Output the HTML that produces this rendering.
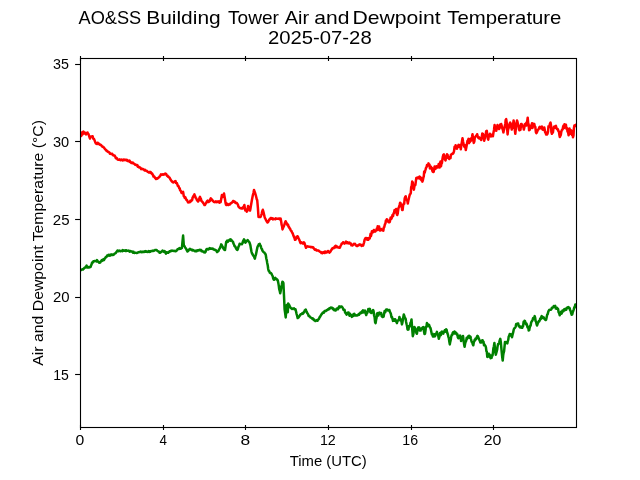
<!DOCTYPE html>
<html><head><meta charset="utf-8">
<style>
html,body{margin:0;padding:0;background:#fff;width:640px;height:480px;overflow:hidden}
svg{display:block;will-change:transform}
text{font-family:"Liberation Sans",sans-serif;fill:#000}
</style></head><body>
<svg width="640" height="480" viewBox="0 0 640 480">
<rect width="640" height="480" fill="#fff"/>
<defs><clipPath id="ax"><rect x="80.5" y="58.5" width="496.0" height="369.0"/></clipPath></defs>
<g clip-path="url(#ax)" fill="none" stroke-width="2.5" stroke-linejoin="round" stroke-linecap="round">
<path stroke="#ff0000" d="M78.0 136.5 L78.5 137.4 L79.0 136.9 L79.6 134.4 L80.1 133.0 L80.6 132.8 L81.2 136.0 L81.8 132.5 L82.5 134.5 L83.0 132.3 L83.4 131.5 L84.2 133.5 L85.0 132.6 L85.5 133.6 L86.0 134.5 L86.5 133.2 L87.0 133.0 L87.5 132.5 L87.9 133.6 L88.4 133.8 L88.9 135.4 L89.5 137.2 L90.0 138.5 L90.5 137.0 L91.0 136.5 L91.5 136.4 L92.1 136.3 L92.6 136.2 L93.4 139.0 L94.1 139.1 L94.7 140.6 L95.3 142.3 L96.0 143.5 L96.5 143.4 L97.1 144.0 L97.6 142.7 L98.1 143.1 L98.6 143.3 L99.0 144.2 L99.5 144.1 L100.0 144.8 L100.5 144.8 L101.0 145.0 L101.5 145.6 L101.9 146.3 L102.4 146.2 L102.9 147.0 L103.3 147.2 L103.8 147.2 L104.3 148.3 L104.7 148.6 L105.2 149.4 L105.7 149.6 L106.1 150.4 L106.6 150.5 L107.1 151.0 L107.5 151.7 L108.0 151.9 L108.5 151.8 L109.0 152.3 L109.4 152.6 L109.9 153.8 L110.4 153.3 L110.9 153.9 L111.4 154.1 L111.8 154.1 L112.3 153.9 L112.8 155.1 L113.3 154.9 L113.8 155.6 L114.2 155.6 L114.7 155.6 L115.2 156.5 L115.6 157.7 L116.0 158.3 L116.5 157.8 L117.0 158.3 L117.4 159.4 L117.9 159.5 L118.3 159.8 L118.8 159.7 L119.3 159.8 L119.7 159.4 L120.2 160.1 L120.7 160.3 L121.1 159.8 L121.6 159.5 L122.1 159.8 L122.5 160.5 L123.0 160.2 L123.5 159.5 L123.9 160.1 L124.4 159.7 L124.9 159.9 L125.3 159.8 L125.8 159.9 L126.3 160.4 L126.8 159.8 L127.2 160.2 L127.7 160.9 L128.1 160.6 L128.6 160.8 L129.0 161.4 L129.5 160.5 L129.9 161.9 L130.4 162.2 L130.8 162.0 L131.3 163.0 L131.8 163.1 L132.2 163.0 L132.7 162.5 L133.2 163.5 L133.6 163.4 L134.1 163.7 L134.6 164.0 L135.0 164.7 L135.5 164.4 L136.0 164.8 L136.4 165.2 L136.9 165.7 L137.4 165.2 L137.8 166.8 L138.3 166.3 L138.8 167.3 L139.2 167.5 L139.7 167.3 L140.2 167.6 L140.7 168.1 L141.2 169.2 L141.7 169.0 L142.1 168.7 L142.6 169.1 L143.1 169.0 L143.6 169.6 L144.1 169.7 L144.5 170.4 L145.0 169.8 L145.5 170.6 L146.0 170.7 L146.4 170.7 L146.9 170.9 L147.4 171.7 L147.8 171.7 L148.3 172.1 L148.8 172.5 L149.2 172.2 L150.0 171.9 L150.5 172.8 L151.0 172.4 L151.5 173.6 L152.0 173.2 L152.5 174.4 L153.0 175.0 L153.5 176.5 L154.0 176.3 L154.5 176.9 L155.0 177.8 L155.5 178.3 L156.0 179.0 L156.5 178.8 L156.9 178.2 L157.4 178.7 L157.8 178.3 L158.3 177.7 L158.8 177.5 L159.2 177.0 L159.7 176.5 L160.1 176.0 L160.6 175.2 L161.0 174.4 L161.5 174.8 L162.1 174.5 L162.6 174.2 L163.1 174.8 L163.6 174.2 L164.2 174.5 L164.7 174.2 L165.2 173.5 L165.7 174.0 L166.2 174.1 L166.6 174.9 L167.1 175.8 L167.5 175.6 L168.0 176.8 L168.5 176.6 L169.0 177.5 L169.5 177.5 L169.9 178.3 L170.4 179.4 L170.9 180.0 L171.4 181.0 L171.9 181.2 L172.4 182.0 L172.8 182.1 L173.3 182.5 L173.8 182.2 L174.2 181.8 L174.7 181.3 L175.1 181.7 L175.6 181.2 L176.0 183.1 L176.5 183.0 L176.9 183.2 L177.4 184.6 L177.8 185.8 L178.3 185.7 L178.8 186.9 L179.2 188.1 L179.7 188.4 L180.1 190.1 L180.6 190.7 L181.0 191.4 L181.5 193.0 L181.9 193.1 L182.5 192.3 L183.1 191.9 L183.8 196.2 L184.2 196.4 L184.7 197.7 L185.1 197.0 L185.6 197.8 L186.1 199.6 L186.6 199.6 L187.1 200.2 L187.6 201.5 L188.1 202.5 L188.5 202.4 L189.0 202.2 L189.4 201.9 L189.9 202.2 L190.3 200.7 L190.8 201.2 L191.2 201.2 L191.7 200.2 L192.2 200.0 L192.6 197.5 L193.1 197.2 L193.5 195.9 L194.0 195.1 L194.4 194.4 L194.9 195.8 L195.4 196.8 L195.9 198.3 L196.4 198.6 L196.9 200.0 L197.5 200.9 L198.1 201.5 L198.6 200.8 L199.1 199.6 L199.5 197.9 L200.0 196.9 L200.5 198.4 L200.9 198.7 L201.4 200.9 L201.9 201.2 L202.4 201.9 L202.9 202.5 L203.4 203.2 L204.0 204.1 L204.5 205.1 L205.0 205.0 L205.4 204.1 L205.9 203.3 L206.3 202.8 L206.8 201.5 L207.2 201.0 L207.8 200.6 L208.2 201.9 L208.8 201.9 L209.2 201.1 L209.8 201.1 L210.2 199.6 L210.8 198.3 L211.2 198.8 L211.7 199.4 L212.2 199.8 L212.6 200.9 L213.1 201.0 L213.5 201.4 L214.0 202.0 L214.4 202.2 L214.9 202.0 L215.3 202.1 L215.8 201.4 L216.2 202.1 L216.7 201.5 L217.2 201.5 L217.6 201.9 L218.1 201.5 L218.6 202.0 L219.1 201.4 L219.6 202.7 L220.1 201.9 L220.6 202.2 L221.2 199.0 L221.9 195.0 L222.8 196.9 L223.4 195.6 L224.0 193.5 L224.5 196.4 L225.0 199.2 L225.5 202.6 L226.0 204.8 L226.5 205.1 L227.0 204.8 L227.5 203.9 L228.0 204.3 L228.5 205.0 L229.0 204.6 L229.5 204.1 L230.0 204.4 L230.5 203.6 L231.0 203.1 L231.6 203.0 L232.1 202.3 L232.6 202.0 L233.1 201.0 L233.6 200.9 L234.1 201.9 L234.5 201.6 L235.0 201.9 L235.5 203.0 L235.9 202.6 L236.4 202.8 L236.9 203.1 L237.4 203.9 L237.9 204.7 L238.4 206.3 L238.9 207.2 L239.4 207.5 L239.9 207.9 L240.4 207.9 L240.9 208.4 L241.5 208.1 L242.0 208.5 L242.5 208.5 L243.0 207.8 L243.4 206.8 L243.9 206.5 L244.4 205.0 L245.0 209.4 L245.4 210.5 L245.9 210.7 L246.3 209.8 L246.8 211.6 L247.2 211.2 L248.1 206.0 L248.6 207.4 L249.1 208.1 L249.5 209.4 L250.0 210.6 L250.5 208.4 L250.9 205.8 L251.4 203.0 L251.9 200.0 L252.4 197.6 L252.9 195.0 L253.5 192.8 L254.0 190.0 L254.5 191.4 L254.9 192.5 L255.4 194.0 L255.9 195.7 L256.3 197.3 L256.8 199.5 L257.2 200.0 L257.9 207.9 L258.5 216.9 L259.0 217.1 L259.6 216.9 L260.1 217.0 L260.6 216.9 L261.1 215.6 L261.7 213.8 L262.2 211.5 L262.8 209.8 L263.2 211.2 L263.6 212.6 L264.1 214.7 L264.6 216.9 L265.0 218.1 L265.5 218.9 L266.0 220.1 L266.5 221.0 L267.0 221.8 L267.5 222.5 L268.0 222.2 L268.5 221.0 L269.1 220.0 L269.6 219.1 L270.1 219.2 L270.6 218.1 L271.1 218.1 L271.6 218.2 L272.0 218.8 L272.5 218.2 L273.0 219.4 L273.4 219.0 L273.9 218.7 L274.4 219.0 L274.9 218.7 L275.4 219.3 L275.8 218.4 L276.3 218.6 L276.8 218.8 L277.3 218.8 L277.7 218.7 L278.2 218.8 L278.7 218.5 L279.2 218.6 L279.6 219.1 L280.1 218.8 L280.6 218.5 L281.1 221.0 L281.6 224.6 L282.0 225.9 L282.5 229.4 L283.0 228.1 L283.5 226.9 L284.1 225.7 L284.6 224.0 L285.1 222.5 L285.6 221.2 L286.1 222.4 L286.6 223.0 L287.0 224.2 L287.5 225.0 L288.0 224.6 L288.5 226.6 L289.0 226.9 L289.5 228.2 L290.0 228.6 L290.5 229.8 L291.0 230.7 L291.5 231.1 L292.0 232.4 L292.5 233.1 L293.0 234.3 L293.5 235.8 L294.0 237.0 L294.5 238.1 L295.0 239.8 L295.5 239.8 L296.0 238.6 L296.5 236.8 L297.0 237.3 L297.5 236.2 L298.0 236.8 L298.5 238.4 L299.1 239.4 L299.6 240.6 L300.1 242.1 L300.6 243.1 L301.1 242.9 L301.6 242.4 L302.0 243.0 L302.5 243.1 L303.0 243.6 L303.4 242.7 L303.9 242.3 L304.4 242.8 L304.9 244.3 L305.5 246.3 L306.0 247.8 L306.5 246.9 L307.0 246.5 L307.5 246.2 L308.0 246.6 L308.5 246.6 L309.1 246.8 L309.6 246.7 L310.1 246.7 L310.6 247.2 L311.1 247.1 L311.6 247.2 L312.1 247.1 L312.6 247.4 L313.1 247.2 L313.6 248.1 L314.1 248.7 L314.5 249.3 L315.0 249.8 L315.5 249.5 L316.0 249.6 L316.6 250.5 L317.1 250.3 L317.6 250.5 L318.1 250.6 L318.6 250.5 L319.1 251.2 L319.6 251.4 L320.0 251.7 L320.5 252.1 L321.0 252.1 L321.5 253.1 L322.0 253.0 L322.4 253.3 L322.9 252.4 L323.3 252.6 L323.8 252.0 L324.2 252.6 L324.7 253.0 L325.1 251.5 L325.6 251.9 L326.1 251.8 L326.6 252.5 L327.1 252.1 L327.6 252.0 L328.0 251.0 L328.5 251.8 L329.0 252.3 L329.5 252.6 L330.0 251.9 L330.5 251.6 L331.0 250.4 L331.6 249.7 L332.1 248.5 L332.6 248.2 L333.1 248.1 L333.6 248.3 L334.2 247.4 L334.7 246.6 L335.2 247.5 L335.7 245.8 L336.2 246.2 L336.8 247.1 L337.3 246.6 L337.8 247.2 L338.3 247.6 L338.9 247.6 L339.4 247.8 L339.9 247.7 L340.3 246.4 L340.8 245.5 L341.2 244.7 L341.7 243.6 L342.2 243.3 L342.6 243.4 L343.1 242.2 L343.6 242.6 L344.1 242.9 L344.6 243.6 L345.1 242.6 L345.5 242.5 L346.0 241.6 L346.5 242.1 L347.0 243.3 L347.5 242.2 L348.0 242.8 L348.5 242.8 L349.0 243.4 L349.5 242.6 L349.9 243.5 L350.4 243.6 L350.9 243.5 L351.4 245.3 L351.9 245.2 L352.4 245.5 L352.9 244.7 L353.4 244.7 L354.0 243.7 L354.5 244.2 L355.0 243.8 L355.5 244.6 L356.0 245.4 L356.5 245.9 L357.0 245.8 L357.5 246.0 L358.0 245.6 L358.5 244.9 L359.0 244.7 L359.5 245.0 L360.0 244.4 L360.5 244.9 L361.0 244.8 L361.6 246.0 L362.1 245.6 L362.6 245.4 L363.1 245.6 L363.6 243.8 L364.1 242.3 L364.6 239.8 L365.1 238.8 L365.6 238.0 L366.0 239.0 L366.5 238.1 L366.9 238.4 L367.4 239.7 L367.8 238.3 L368.3 239.7 L368.8 238.4 L369.2 237.7 L369.7 238.5 L370.1 236.7 L370.6 233.7 L371.0 236.1 L371.5 233.8 L371.9 231.3 L372.4 232.6 L372.9 232.3 L373.4 231.9 L373.8 229.9 L374.3 230.2 L374.8 231.0 L375.3 231.4 L375.8 230.7 L376.3 230.4 L376.8 228.6 L377.2 230.0 L377.7 226.2 L378.2 228.3 L378.6 229.4 L379.1 226.4 L379.6 230.3 L380.0 230.6 L380.5 229.0 L381.0 229.5 L381.4 229.1 L381.9 230.2 L382.4 230.4 L382.8 230.5 L383.3 230.7 L383.8 227.5 L384.3 227.1 L384.9 224.2 L385.4 223.6 L385.9 220.5 L386.4 221.1 L386.8 219.2 L387.3 219.5 L387.8 221.4 L388.3 220.9 L388.7 222.2 L389.2 221.9 L389.7 222.1 L390.1 220.4 L390.6 217.7 L391.1 217.5 L391.5 218.7 L392.0 217.3 L392.5 214.9 L393.0 216.2 L393.5 213.5 L394.0 213.0 L394.5 210.2 L395.0 210.0 L395.6 211.1 L396.1 209.0 L396.6 213.5 L397.2 215.0 L397.7 213.6 L398.2 209.8 L398.6 207.8 L399.1 206.7 L399.6 204.8 L400.1 202.7 L400.6 203.2 L401.1 206.4 L401.6 205.1 L402.1 209.9 L402.6 210.0 L403.1 205.7 L403.6 203.8 L404.2 203.8 L404.7 198.3 L405.2 196.9 L405.7 196.2 L406.2 199.6 L406.8 199.7 L407.3 200.7 L407.8 203.4 L408.3 200.7 L408.8 198.7 L409.3 196.5 L409.8 194.6 L410.3 194.0 L410.8 192.9 L411.2 187.0 L411.7 185.9 L412.2 181.6 L412.8 182.5 L413.3 187.6 L413.9 189.6 L414.4 186.2 L414.9 185.3 L415.4 184.9 L415.8 181.6 L416.3 177.9 L416.8 178.6 L417.4 177.5 L417.9 177.7 L418.4 178.3 L419.0 177.2 L419.5 176.5 L420.0 178.1 L420.5 179.2 L420.9 177.6 L421.4 180.2 L421.9 179.9 L422.4 181.6 L422.8 180.4 L423.3 177.9 L423.8 176.1 L424.2 171.4 L424.7 172.6 L425.1 171.0 L425.6 169.4 L426.1 167.6 L426.6 167.1 L427.0 165.0 L427.5 165.8 L428.0 165.3 L428.5 163.4 L429.0 165.1 L429.5 164.6 L429.9 168.4 L430.4 168.2 L430.9 166.8 L431.4 168.8 L431.8 167.8 L432.3 170.7 L432.8 171.8 L433.3 171.9 L433.7 171.9 L434.2 168.9 L434.6 166.4 L435.1 167.7 L435.5 168.9 L436.0 166.4 L436.5 166.3 L436.9 167.5 L437.4 166.7 L437.8 167.4 L438.3 165.9 L438.7 164.0 L439.2 165.1 L439.6 167.6 L440.1 163.4 L440.5 161.4 L441.0 166.3 L441.4 163.8 L441.9 163.0 L442.4 159.5 L442.8 156.9 L443.3 155.0 L443.9 154.4 L444.4 158.7 L444.9 159.3 L445.5 160.5 L446.0 157.6 L446.5 155.8 L447.0 154.3 L447.6 154.9 L448.1 158.0 L448.6 157.6 L449.2 159.0 L450.0 156.7 L450.5 158.0 L450.9 154.6 L451.4 154.4 L451.9 154.1 L452.4 153.6 L452.8 153.7 L453.3 153.3 L454.0 151.3 L454.6 146.7 L455.1 148.3 L455.6 145.3 L456.1 148.4 L456.5 146.8 L457.0 148.8 L457.5 146.7 L458.0 146.1 L458.5 144.9 L459.0 146.7 L459.5 146.2 L460.0 145.0 L460.8 149.2 L461.4 145.0 L461.9 142.0 L462.5 138.3 L463.1 141.8 L463.8 145.0 L464.3 146.7 L464.8 145.3 L465.3 147.2 L465.8 150.0 L466.4 147.0 L466.9 144.2 L467.5 140.8 L468.0 140.3 L468.5 138.9 L469.0 143.1 L469.5 141.1 L470.0 141.7 L470.5 138.8 L471.0 140.8 L471.5 138.7 L472.0 137.0 L472.5 134.2 L473.1 139.6 L473.8 142.9 L474.3 141.6 L474.8 137.5 L475.4 136.7 L476.0 135.9 L476.5 135.5 L477.1 134.2 L477.7 136.4 L478.2 137.6 L478.8 138.3 L479.2 137.3 L479.8 138.2 L480.2 138.9 L480.8 139.4 L481.2 140.0 L481.8 136.8 L482.3 133.5 L482.9 133.8 L483.5 135.7 L484.2 140.8 L484.7 138.8 L485.2 136.0 L485.7 134.4 L486.2 131.2 L486.8 130.9 L487.3 134.9 L487.8 138.7 L488.3 139.6 L488.8 135.8 L489.4 135.7 L489.9 133.7 L490.4 134.6 L490.9 136.5 L491.4 135.3 L491.9 134.8 L492.4 136.1 L492.9 136.2 L493.5 132.4 L494.0 129.9 L494.6 125.0 L495.2 128.5 L495.7 130.1 L496.2 130.8 L496.9 128.3 L497.5 125.0 L498.0 126.8 L498.6 127.7 L499.1 129.0 L499.6 128.3 L500.2 124.5 L500.7 125.9 L501.2 124.0 L501.8 126.2 L502.3 128.4 L502.9 130.0 L503.4 132.4 L503.9 130.1 L504.3 128.6 L504.8 126.0 L505.3 123.7 L505.7 119.9 L506.2 119.1 L506.7 122.6 L507.1 128.4 L507.6 134.5 L508.1 129.4 L508.6 128.2 L509.2 125.0 L509.7 123.3 L510.2 122.5 L510.8 123.9 L511.3 127.4 L511.8 129.6 L512.2 126.6 L512.7 127.9 L513.1 123.9 L513.6 120.5 L514.2 123.9 L514.7 128.7 L515.3 133.8 L515.9 128.1 L516.4 123.9 L517.0 120.5 L517.5 122.0 L518.0 124.4 L518.5 125.6 L519.0 129.4 L519.5 130.3 L520.0 129.6 L520.5 129.7 L521.1 123.9 L521.6 124.0 L522.1 126.3 L522.7 126.3 L523.2 126.1 L523.8 129.6 L524.3 127.6 L524.8 124.3 L525.4 124.8 L525.9 123.3 L526.4 125.5 L526.8 122.2 L527.2 121.5 L527.7 117.7 L528.2 123.5 L528.6 124.1 L529.1 130.3 L529.6 130.0 L530.1 128.8 L530.5 128.3 L531.0 125.6 L531.5 126.1 L532.0 123.2 L532.4 128.1 L532.9 126.6 L533.4 125.1 L533.8 123.7 L534.3 124.0 L534.8 126.5 L535.3 126.9 L535.9 132.1 L536.4 133.1 L536.9 132.4 L537.4 131.1 L537.9 129.8 L538.4 129.4 L538.9 128.8 L539.4 127.2 L539.9 126.8 L540.4 128.3 L540.9 127.5 L541.4 127.3 L541.9 126.5 L542.4 129.4 L542.9 129.7 L543.4 128.2 L543.9 129.9 L544.3 127.4 L544.8 130.1 L545.2 132.6 L545.6 132.2 L546.1 134.6 L546.5 133.1 L547.0 134.5 L547.5 133.8 L548.0 131.8 L548.5 126.2 L549.0 127.2 L549.5 125.7 L550.0 123.5 L550.5 122.6 L551.0 125.2 L551.4 132.1 L551.9 133.8 L552.4 132.5 L552.9 132.6 L553.4 128.8 L553.9 126.7 L554.4 127.7 L554.9 127.7 L555.4 126.1 L555.9 125.9 L556.5 128.2 L557.0 129.2 L557.5 128.9 L558.0 129.5 L558.4 131.2 L558.9 131.4 L559.4 135.0 L559.8 137.0 L560.3 135.9 L560.8 135.0 L561.2 132.2 L561.7 130.4 L562.2 129.5 L562.6 129.5 L563.1 126.8 L563.6 125.5 L564.0 128.0 L564.5 124.2 L565.0 125.4 L565.4 126.8 L565.9 124.7 L566.5 128.9 L567.0 128.0 L567.5 131.5 L568.1 132.4 L568.6 135.3 L569.0 133.2 L569.5 128.5 L570.0 131.4 L570.4 133.7 L570.9 130.3 L571.4 130.5 L572.0 135.0 L572.5 132.8 L573.0 137.3 L573.5 135.4 L573.9 128.3 L574.4 125.4 L574.9 126.2 L575.3 126.1 L575.8 124.7 L580.0 124.7"/>
<path stroke="#008000" d="M78.0 271.0 L78.5 272.7 L78.9 270.2 L79.4 270.9 L79.8 270.6 L80.3 270.6 L80.7 269.6 L81.2 269.9 L81.6 269.6 L82.1 269.4 L82.5 269.3 L83.0 269.5 L83.5 268.8 L84.0 268.4 L84.5 267.7 L85.1 267.7 L85.6 266.9 L86.1 266.6 L86.6 265.6 L87.0 267.5 L87.5 267.1 L88.0 267.5 L88.5 267.1 L89.0 267.4 L89.5 267.3 L90.0 267.1 L90.5 267.0 L91.0 265.5 L91.5 264.7 L91.9 262.9 L92.4 262.2 L92.9 262.4 L93.4 261.2 L93.9 261.3 L94.4 261.2 L94.9 260.9 L95.4 261.1 L95.9 261.0 L96.5 261.4 L97.0 260.1 L97.5 261.3 L98.0 261.5 L98.6 262.0 L99.2 262.7 L99.7 262.2 L100.2 262.5 L100.7 261.4 L101.1 261.4 L101.6 260.4 L102.1 260.9 L102.5 259.9 L103.0 260.2 L103.5 259.2 L103.9 260.1 L104.4 259.1 L104.8 258.4 L105.3 258.1 L105.7 257.1 L106.2 256.8 L106.6 256.9 L107.1 255.6 L107.5 256.0 L108.0 255.5 L108.5 254.8 L108.9 255.4 L109.4 254.9 L109.8 255.8 L110.3 255.5 L110.7 255.0 L111.2 254.4 L111.6 254.8 L112.1 254.9 L112.5 254.6 L113.0 254.9 L113.5 254.6 L114.0 254.5 L114.5 253.8 L115.0 253.4 L115.5 253.2 L116.0 252.8 L116.5 251.8 L116.9 251.5 L117.4 250.6 L117.9 250.6 L118.4 251.3 L119.0 250.8 L119.5 250.6 L120.0 251.1 L120.5 251.2 L121.0 250.9 L121.5 250.7 L122.0 250.9 L122.5 251.2 L122.9 250.1 L123.4 250.8 L123.9 250.7 L124.4 250.6 L124.9 250.6 L125.4 250.9 L125.8 250.2 L126.3 250.9 L126.8 250.6 L127.2 250.8 L127.7 250.7 L128.2 250.7 L128.6 250.6 L129.1 251.0 L129.6 251.6 L130.0 251.3 L130.5 251.0 L131.0 251.4 L131.5 251.5 L132.0 251.4 L132.5 251.9 L132.9 252.6 L133.4 251.7 L133.9 252.6 L134.4 252.9 L134.9 252.8 L135.4 252.7 L135.9 252.8 L136.3 252.9 L136.8 253.1 L137.3 252.7 L137.8 252.7 L138.3 252.2 L138.8 252.3 L139.2 251.9 L139.7 251.9 L140.2 251.9 L140.7 251.6 L141.2 252.0 L141.7 252.3 L142.1 251.7 L142.6 251.8 L143.1 251.9 L143.6 251.7 L144.1 252.0 L144.5 251.7 L145.0 251.2 L145.5 251.6 L145.9 251.2 L146.4 251.8 L146.8 251.8 L147.3 251.9 L147.8 251.6 L148.2 251.6 L148.7 251.0 L149.1 252.0 L149.6 251.2 L150.0 251.5 L150.5 251.7 L151.0 250.9 L151.4 250.9 L151.9 251.1 L152.4 250.8 L152.9 250.6 L153.4 251.0 L153.8 250.8 L154.3 250.6 L154.8 250.2 L155.3 249.9 L155.8 249.9 L156.2 250.0 L156.7 250.2 L157.2 250.7 L157.7 251.3 L158.1 251.3 L158.6 251.4 L159.1 251.8 L159.5 252.8 L160.0 252.8 L160.5 252.4 L161.0 252.0 L161.5 251.6 L162.0 251.2 L162.5 250.6 L163.0 251.0 L163.5 251.7 L164.1 252.0 L164.6 251.1 L165.1 252.3 L165.6 252.8 L166.0 253.7 L166.5 252.2 L166.9 252.6 L167.4 252.8 L167.8 252.4 L168.3 252.8 L168.8 252.2 L169.2 251.6 L169.7 251.3 L170.1 251.5 L170.6 251.1 L171.0 250.7 L171.5 251.0 L171.9 250.6 L172.4 250.8 L172.8 250.8 L173.3 250.7 L173.8 251.0 L174.2 251.0 L174.7 250.8 L175.1 251.3 L175.6 251.2 L176.1 251.0 L176.6 250.5 L177.0 250.3 L177.5 249.3 L178.0 249.2 L178.4 248.7 L178.9 249.0 L179.4 248.1 L179.9 248.3 L180.4 248.8 L180.9 248.6 L181.4 248.0 L181.9 248.1 L182.5 241.5 L183.1 235.6 L183.8 245.0 L184.2 245.9 L184.7 246.5 L185.1 247.3 L185.6 248.1 L186.1 248.6 L186.6 250.0 L187.0 250.7 L187.5 251.5 L188.0 251.1 L188.4 250.6 L188.9 249.6 L189.4 249.4 L189.9 248.7 L190.3 249.5 L190.8 249.4 L191.2 249.5 L191.7 250.1 L192.2 249.8 L192.6 250.5 L193.1 250.0 L193.6 250.3 L194.1 250.7 L194.6 250.9 L195.1 251.3 L195.6 251.2 L196.1 250.6 L196.6 251.3 L197.0 250.7 L197.5 250.2 L198.0 250.5 L198.4 250.2 L198.9 250.4 L199.4 249.8 L199.9 250.2 L200.4 250.3 L200.9 249.8 L201.5 251.2 L202.0 251.3 L202.5 251.0 L203.0 251.6 L203.5 251.8 L204.0 252.3 L204.5 251.9 L205.0 252.5 L205.5 251.9 L205.9 250.8 L206.4 249.5 L206.9 249.0 L207.4 249.1 L207.9 249.1 L208.3 249.5 L208.8 249.2 L209.3 248.3 L209.8 248.1 L210.3 248.8 L210.8 248.7 L211.2 248.8 L211.7 248.5 L212.2 248.4 L212.6 249.0 L213.1 248.7 L213.5 249.0 L214.0 249.6 L214.4 249.4 L214.9 249.9 L215.4 250.0 L215.9 250.2 L216.5 251.0 L217.0 252.1 L217.5 251.9 L218.0 251.0 L218.5 251.0 L219.0 249.3 L219.5 248.8 L220.0 248.1 L220.6 246.5 L221.2 244.4 L221.7 245.0 L222.2 246.3 L222.6 246.7 L223.1 248.1 L223.6 248.8 L224.1 249.5 L224.5 249.3 L225.0 250.0 L225.6 246.0 L226.2 241.9 L226.7 241.4 L227.2 240.5 L227.7 241.9 L228.2 240.9 L228.7 240.6 L229.1 240.2 L229.6 239.8 L230.1 239.4 L230.6 240.7 L231.1 239.6 L231.6 240.5 L232.0 240.9 L232.5 241.4 L233.0 241.8 L233.5 243.6 L234.0 244.5 L234.5 246.2 L235.0 246.3 L235.5 247.0 L235.9 248.2 L236.4 249.0 L236.9 249.6 L237.4 249.9 L237.9 248.9 L238.5 246.6 L239.1 245.6 L239.6 243.8 L240.2 244.1 L240.7 244.0 L241.2 243.9 L241.8 244.3 L242.4 243.4 L242.9 241.6 L243.4 240.5 L244.0 239.4 L244.5 240.1 L244.9 242.2 L245.4 242.6 L245.9 241.9 L246.5 241.1 L247.1 240.6 L247.6 240.0 L248.2 240.7 L248.7 241.7 L249.2 241.9 L249.8 243.3 L250.4 245.4 L250.9 248.6 L251.4 251.3 L252.0 253.5 L252.5 254.0 L253.0 255.2 L253.4 255.8 L253.9 256.1 L254.4 257.6 L254.9 258.6 L255.4 256.1 L255.9 254.8 L256.4 252.3 L256.8 250.3 L257.3 247.7 L257.8 246.2 L258.3 245.6 L258.8 244.3 L259.2 244.4 L259.7 243.8 L260.2 245.3 L260.6 245.5 L261.1 247.3 L261.5 248.6 L262.0 249.1 L262.4 250.6 L262.9 251.3 L263.4 251.9 L263.9 252.4 L264.4 252.4 L264.8 253.4 L265.3 253.8 L265.8 255.0 L266.3 258.5 L266.8 260.4 L267.2 262.9 L267.7 265.2 L268.2 269.0 L268.7 271.0 L269.2 271.1 L269.7 272.5 L270.1 272.9 L270.6 273.0 L271.1 273.2 L271.6 273.9 L272.2 275.3 L272.7 276.3 L273.2 278.5 L273.8 279.8 L274.3 279.8 L274.8 278.8 L275.3 277.9 L275.8 278.8 L276.3 278.7 L276.8 279.6 L277.3 279.6 L277.8 280.5 L278.3 282.9 L278.8 285.9 L279.2 289.1 L279.7 290.8 L280.2 293.3 L280.8 290.4 L281.3 286.8 L281.8 284.7 L282.4 281.7 L282.9 282.1 L283.4 283.1 L284.0 295.7 L284.6 309.4 L285.1 312.8 L285.7 317.4 L286.2 311.3 L286.8 305.0 L287.3 308.5 L287.8 312.3 L288.2 303.5 L288.7 304.5 L289.2 305.0 L289.6 305.8 L290.1 307.2 L290.6 307.7 L291.1 308.2 L291.6 308.6 L292.1 309.0 L292.6 308.7 L293.1 308.4 L293.5 308.6 L294.0 308.4 L294.5 309.3 L295.0 309.1 L295.5 309.4 L296.1 311.8 L296.6 314.1 L297.1 315.6 L297.7 318.1 L298.2 317.6 L298.7 317.4 L299.1 316.3 L299.6 316.1 L300.1 315.0 L300.6 314.5 L301.2 313.9 L301.7 314.0 L302.2 313.2 L302.8 313.7 L303.3 313.3 L303.8 312.1 L304.2 312.2 L304.7 310.5 L305.2 310.3 L305.7 309.6 L306.2 310.8 L306.7 311.6 L307.1 312.9 L307.6 313.5 L308.1 314.4 L308.6 315.9 L309.1 315.7 L309.5 316.4 L310.0 316.7 L310.5 317.4 L310.9 317.6 L311.4 317.8 L311.8 318.2 L312.3 318.8 L312.8 318.4 L313.2 319.3 L313.7 319.9 L314.1 319.5 L314.6 320.3 L315.0 320.9 L315.5 321.0 L316.0 320.5 L316.5 320.5 L317.1 320.0 L317.6 320.8 L318.1 319.6 L318.6 319.4 L319.1 318.6 L319.6 317.1 L320.1 316.9 L320.5 315.9 L321.0 315.3 L321.5 314.2 L322.0 313.8 L322.5 313.0 L323.0 312.4 L323.5 312.5 L323.9 312.7 L324.4 311.2 L324.9 310.9 L325.4 311.2 L325.9 311.0 L326.4 310.3 L326.9 310.3 L327.3 309.9 L327.8 309.6 L328.3 309.1 L328.8 309.4 L329.3 308.3 L329.8 308.6 L330.2 308.2 L330.7 307.6 L331.2 307.6 L331.7 308.1 L332.2 307.7 L332.7 308.0 L333.2 309.3 L333.6 308.8 L334.1 310.2 L334.6 310.3 L335.1 310.0 L335.6 310.5 L336.1 309.8 L336.5 308.9 L337.0 309.4 L337.5 308.4 L337.9 309.3 L338.4 307.6 L338.8 307.9 L339.3 306.4 L339.8 307.0 L340.2 307.3 L340.7 306.4 L341.1 306.5 L341.6 306.6 L342.1 307.0 L342.5 307.5 L343.0 308.6 L343.5 309.9 L344.1 310.2 L344.6 309.9 L345.1 312.4 L345.6 313.1 L346.1 313.7 L346.6 314.6 L347.1 312.9 L347.6 312.8 L348.1 312.5 L348.6 312.6 L349.1 314.3 L349.5 315.7 L350.0 313.8 L350.5 315.3 L350.9 314.8 L351.4 315.7 L351.9 316.9 L352.4 316.1 L352.9 316.1 L353.4 314.2 L353.9 314.1 L354.4 313.8 L354.9 315.4 L355.4 315.0 L355.9 315.5 L356.4 315.6 L356.9 315.6 L357.4 315.0 L357.8 315.2 L358.3 314.9 L358.8 314.0 L359.2 314.6 L359.7 313.3 L360.1 313.7 L360.6 312.5 L361.1 312.3 L361.6 312.8 L362.1 311.2 L362.6 311.1 L363.0 310.3 L363.5 312.4 L364.0 311.5 L364.5 311.0 L365.0 310.6 L365.6 313.4 L366.2 315.0 L366.8 313.2 L367.3 313.0 L367.8 311.4 L368.3 309.1 L368.9 309.5 L369.4 308.8 L369.9 309.0 L370.3 312.3 L370.8 311.3 L371.2 313.1 L371.7 311.7 L372.2 312.5 L372.6 310.8 L373.1 310.0 L373.6 311.3 L374.1 315.5 L374.6 317.1 L375.1 322.1 L375.6 323.1 L376.1 319.7 L376.6 317.7 L377.0 313.5 L377.5 313.8 L378.0 313.0 L378.4 315.4 L378.9 313.4 L379.4 312.5 L379.8 313.6 L380.3 313.0 L380.8 313.1 L381.2 313.1 L381.7 316.3 L382.2 316.6 L382.6 317.0 L383.1 316.2 L383.6 316.7 L384.2 313.1 L384.7 310.9 L385.2 312.4 L385.7 310.9 L386.2 309.4 L386.8 309.5 L387.3 309.5 L387.8 310.4 L388.3 310.3 L388.9 310.1 L389.4 310.0 L389.9 311.9 L390.4 312.7 L390.9 314.0 L391.5 317.2 L392.0 317.0 L392.5 318.8 L393.0 320.9 L393.5 319.8 L394.1 319.4 L394.6 320.7 L395.1 319.3 L395.6 320.0 L396.2 321.4 L396.9 323.1 L397.4 321.5 L397.9 320.6 L398.4 320.0 L398.9 320.2 L399.4 316.9 L399.9 318.9 L400.4 318.8 L400.9 320.6 L401.4 321.1 L401.9 324.4 L402.4 322.6 L402.8 320.3 L403.3 317.2 L403.8 314.4 L404.2 315.8 L404.7 317.1 L405.1 318.1 L405.6 318.8 L406.1 322.0 L406.6 324.3 L407.0 325.8 L407.5 329.4 L408.0 329.7 L408.5 329.5 L409.0 325.9 L409.5 326.6 L410.0 326.2 L410.5 322.8 L411.0 322.2 L411.5 319.4 L412.1 327.5 L412.8 336.2 L413.3 334.5 L413.8 331.1 L414.4 326.9 L414.9 327.8 L415.4 329.2 L415.9 330.4 L416.4 333.0 L416.9 333.8 L417.5 329.7 L418.1 327.5 L418.6 328.6 L419.1 327.3 L419.6 330.4 L420.1 330.5 L420.6 330.6 L421.1 328.7 L421.6 328.3 L422.0 328.4 L422.5 327.5 L423.0 329.0 L423.5 327.1 L424.0 331.5 L424.5 334.0 L425.0 333.8 L425.5 330.6 L425.9 327.1 L426.4 327.0 L426.9 323.1 L427.4 324.1 L427.9 324.8 L428.4 325.9 L429.0 324.8 L429.5 326.1 L430.0 327.5 L430.5 328.1 L430.9 329.8 L431.4 332.3 L431.9 334.4 L432.4 333.6 L432.9 336.6 L433.4 335.8 L434.0 336.5 L434.5 334.2 L435.0 336.2 L435.5 334.9 L435.9 333.9 L436.4 333.1 L436.9 331.9 L437.4 334.1 L437.8 334.5 L438.3 336.1 L438.8 338.8 L439.4 336.9 L440.0 333.1 L440.5 335.2 L440.9 334.9 L441.4 332.3 L441.9 331.6 L442.3 332.4 L442.8 332.5 L443.3 333.7 L443.8 331.7 L444.2 331.1 L444.7 330.3 L445.2 331.8 L445.7 329.7 L446.1 329.2 L446.6 329.8 L447.2 332.7 L447.8 334.3 L448.4 336.9 L448.9 338.3 L449.3 341.6 L449.8 344.4 L450.3 341.6 L450.8 339.5 L451.2 336.6 L451.7 335.0 L452.2 334.9 L452.6 333.2 L453.1 332.3 L453.6 332.2 L454.1 333.4 L454.5 331.5 L455.0 333.4 L455.5 333.4 L455.9 332.6 L456.4 333.1 L456.9 334.6 L457.4 334.2 L457.8 337.3 L458.3 338.3 L458.8 336.5 L459.2 336.0 L459.7 336.5 L460.2 335.5 L460.6 337.5 L461.1 341.1 L461.6 339.9 L462.1 338.9 L462.5 338.3 L463.0 335.9 L463.5 339.9 L464.1 344.2 L464.6 346.7 L465.1 343.7 L465.6 341.9 L466.2 340.7 L466.7 337.8 L467.2 338.8 L467.6 337.9 L468.1 336.6 L468.6 335.9 L469.1 335.8 L469.5 337.8 L470.0 336.4 L470.5 336.7 L470.9 338.8 L471.4 341.1 L471.9 342.2 L472.3 342.3 L472.8 344.4 L473.3 345.3 L473.8 342.2 L474.2 341.2 L474.7 339.7 L475.2 340.1 L475.6 338.4 L476.1 339.0 L476.6 337.7 L477.1 336.4 L477.5 335.9 L478.0 336.4 L478.5 338.0 L478.9 338.9 L479.4 339.9 L479.8 340.8 L480.3 342.5 L480.8 341.8 L481.2 342.4 L481.7 342.3 L482.1 340.4 L482.6 340.2 L483.1 342.2 L483.5 341.7 L484.0 345.3 L484.5 344.6 L484.9 345.5 L485.4 345.8 L485.9 347.2 L486.4 351.2 L486.8 351.6 L487.3 357.0 L487.8 356.4 L488.3 355.5 L488.8 353.8 L489.2 356.7 L489.7 354.8 L490.2 356.4 L490.6 358.2 L491.1 357.5 L491.6 357.8 L492.0 355.3 L492.5 355.6 L493.0 352.1 L493.4 348.2 L493.9 346.2 L494.4 343.0 L494.9 347.6 L495.3 352.1 L495.8 354.7 L496.2 353.1 L496.7 351.3 L497.2 349.4 L497.6 346.2 L498.1 344.0 L498.7 343.9 L499.2 342.6 L499.8 340.1 L500.3 338.8 L500.8 342.2 L501.3 347.6 L501.7 352.0 L502.2 356.9 L502.7 360.6 L503.2 355.3 L503.6 352.8 L504.1 351.2 L504.5 346.8 L505.0 341.9 L505.5 342.1 L505.9 342.2 L506.4 342.6 L506.8 342.3 L507.3 343.4 L507.8 341.1 L508.3 339.6 L508.7 336.7 L509.2 335.8 L509.7 334.0 L510.2 334.9 L510.6 334.2 L511.1 335.5 L511.5 335.3 L512.0 337.2 L512.5 334.9 L513.1 332.7 L513.6 330.2 L514.1 328.7 L514.6 328.2 L515.2 327.5 L515.7 326.6 L516.2 323.9 L516.7 323.9 L517.2 324.0 L517.7 323.5 L518.2 323.6 L518.8 326.3 L519.3 326.5 L519.8 326.2 L520.3 327.6 L520.8 327.5 L521.2 326.8 L521.7 327.7 L522.2 327.8 L522.7 326.0 L523.1 326.1 L523.6 321.8 L524.0 322.5 L524.5 320.8 L525.0 321.1 L525.5 322.9 L525.9 324.1 L526.4 323.4 L526.9 324.7 L527.4 326.9 L527.8 327.8 L528.3 326.8 L528.7 330.5 L529.2 330.2 L529.7 327.6 L530.2 325.7 L530.6 325.8 L531.1 322.8 L531.6 321.6 L532.1 320.9 L532.6 319.7 L533.2 318.0 L533.7 319.2 L534.2 318.2 L534.7 316.1 L535.2 318.0 L535.6 321.1 L536.1 321.7 L536.5 323.8 L537.0 325.5 L537.5 324.3 L537.9 322.6 L538.4 322.4 L538.9 321.0 L539.4 321.1 L539.8 320.0 L540.3 318.5 L540.8 319.0 L541.2 317.3 L541.7 316.1 L542.2 318.0 L542.7 316.8 L543.2 317.3 L543.7 317.5 L544.1 318.7 L544.6 318.9 L545.1 319.5 L545.6 320.0 L546.1 319.8 L546.6 317.5 L547.2 314.8 L547.7 314.1 L548.2 312.0 L548.8 310.6 L549.2 310.0 L549.7 309.8 L550.1 309.7 L550.6 309.8 L551.0 309.8 L551.5 308.7 L551.9 307.7 L552.4 308.0 L552.8 307.5 L553.3 307.1 L553.7 306.1 L554.2 306.7 L554.7 306.9 L555.2 305.9 L555.7 308.6 L556.2 308.5 L556.6 308.8 L557.1 307.8 L557.6 309.0 L558.1 309.1 L558.6 312.2 L559.2 313.1 L559.7 315.3 L560.2 313.8 L560.6 314.0 L561.1 311.7 L561.6 313.6 L562.0 312.5 L562.5 310.5 L563.0 311.5 L563.5 311.2 L563.9 310.2 L564.4 309.1 L564.9 309.5 L565.3 310.0 L565.8 308.8 L566.3 309.6 L566.8 308.1 L567.2 307.6 L567.7 307.7 L568.2 307.0 L568.6 308.0 L569.1 307.5 L569.6 308.1 L570.1 310.1 L570.7 311.2 L571.2 313.4 L571.7 314.7 L572.2 314.5 L572.7 312.4 L573.2 311.0 L573.8 309.3 L574.3 307.3 L574.8 307.5 L575.3 304.4 L580.0 304.4"/>
</g>
<rect x="80.5" y="58.5" width="496.0" height="369.0" fill="none" stroke="#000" stroke-width="1.11"/>
<g stroke="#000" stroke-width="1.11"><line x1="75.1" y1="64.5" x2="80.5" y2="64.5"/><line x1="75.1" y1="141.5" x2="80.5" y2="141.5"/><line x1="75.1" y1="219.5" x2="80.5" y2="219.5"/><line x1="75.1" y1="297.5" x2="80.5" y2="297.5"/><line x1="75.1" y1="374.5" x2="80.5" y2="374.5"/><line x1="80.5" y1="56" x2="80.5" y2="61"/><line x1="80.5" y1="425" x2="80.5" y2="430"/><line x1="163.5" y1="56" x2="163.5" y2="61"/><line x1="163.5" y1="425" x2="163.5" y2="430"/><line x1="245.5" y1="56" x2="245.5" y2="61"/><line x1="245.5" y1="425" x2="245.5" y2="430"/><line x1="328.5" y1="56" x2="328.5" y2="61"/><line x1="328.5" y1="425" x2="328.5" y2="430"/><line x1="411.5" y1="56" x2="411.5" y2="61"/><line x1="411.5" y1="425" x2="411.5" y2="430"/><line x1="493.5" y1="56" x2="493.5" y2="61"/><line x1="493.5" y1="425" x2="493.5" y2="430"/></g>
<text x="78.5" y="23.7" font-size="18.5" textLength="62.74" lengthAdjust="spacingAndGlyphs">AO&amp;SS</text>
<text x="146.24" y="23.7" font-size="18.5" textLength="74.45" lengthAdjust="spacingAndGlyphs">Building</text>
<text x="228.0" y="23.7" font-size="18.5" textLength="50.87" lengthAdjust="spacingAndGlyphs">Tower</text>
<text x="284.75" y="23.7" font-size="18.5" textLength="24.42" lengthAdjust="spacingAndGlyphs">Air</text>
<text x="314.36" y="23.7" font-size="18.5" textLength="35.13" lengthAdjust="spacingAndGlyphs">and</text>
<text x="352.46" y="23.7" font-size="18.5" textLength="88.2" lengthAdjust="spacingAndGlyphs">Dewpoint</text>
<text x="447.25" y="23.7" font-size="18.5" textLength="114.19" lengthAdjust="spacingAndGlyphs">Temperature</text>
<text x="267.9" y="44.3" font-size="18.5" textLength="103.8" lengthAdjust="spacingAndGlyphs">2025-07-28</text>
<text x="289.7" y="466.3" font-size="14.7" textLength="77.07" lengthAdjust="spacingAndGlyphs">Time (UTC)</text>
<text x="53.03" y="68.75" font-size="14.7" textLength="15.91" lengthAdjust="spacingAndGlyphs">35</text>
<text x="53.01" y="146.8" font-size="14.7" textLength="16.23" lengthAdjust="spacingAndGlyphs">30</text>
<text x="52.87" y="225.1" font-size="14.7" textLength="16.78" lengthAdjust="spacingAndGlyphs">25</text>
<text x="52.98" y="301.8" font-size="14.7" textLength="16.62" lengthAdjust="spacingAndGlyphs">20</text>
<text x="53.29" y="379.8" font-size="14.7" textLength="15.64" lengthAdjust="spacingAndGlyphs">15</text>
<text x="75.53" y="445" font-size="14.7" textLength="8.76" lengthAdjust="spacingAndGlyphs">0</text>
<text x="159.6" y="445" font-size="14.7" textLength="7.46" lengthAdjust="spacingAndGlyphs">4</text>
<text x="240.62" y="445" font-size="14.7" textLength="9.67" lengthAdjust="spacingAndGlyphs">8</text>
<text x="319.93" y="445" font-size="14.7" textLength="15.91" lengthAdjust="spacingAndGlyphs">12</text>
<text x="402.33" y="445" font-size="14.7" textLength="15.8" lengthAdjust="spacingAndGlyphs">16</text>
<text x="483.72" y="445" font-size="14.7" textLength="17.65" lengthAdjust="spacingAndGlyphs">20</text>
<text transform="rotate(-90)" x="-365.7" y="43" font-size="14.7" textLength="245.68" lengthAdjust="spacingAndGlyphs">Air and Dewpoint Temperature (°C)</text>
</svg>
</body></html>
